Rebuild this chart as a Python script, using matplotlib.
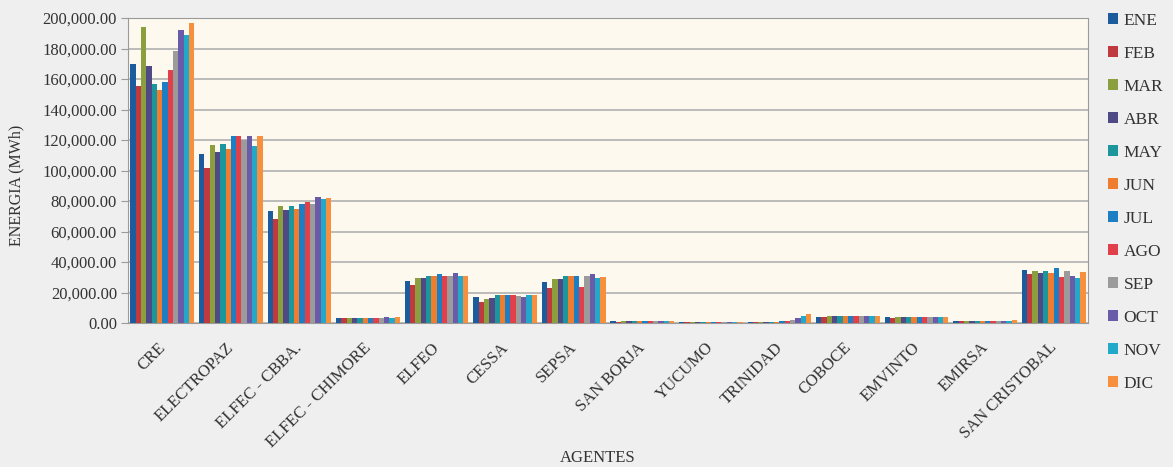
import matplotlib
matplotlib.use("Agg")
import matplotlib.pyplot as plt
import matplotlib.transforms as mtrans
import numpy as np
from matplotlib.ticker import FuncFormatter
from matplotlib.patches import Patch

agentes = ["CRE", "ELECTROPAZ", "ELFEC - CBBA.", "ELFEC - CHIMORE", "ELFEO", "CESSA",
           "SEPSA", "SAN BORJA", "YUCUMO", "TRINIDAD", "COBOCE", "EMVINTO", "EMIRSA",
           "SAN CRISTOBAL"]
meses = ["ENE", "FEB", "MAR", "ABR", "MAY", "JUN", "JUL", "AGO", "SEP", "OCT", "NOV", "DIC"]

ene = [169600, 110600, 73400, 3500, 27800, 17200, 26700, 1000, 600, 900, 4200, 3800, 1500, 34800]
feb = [155300, 101800, 68300, 3300, 24900, 13900, 22700, 900, 550, 850, 4000, 3600, 1400, 32000]
mar = [193900, 117000, 76700, 3600, 29800, 15700, 28700, 1000, 600, 900, 4300, 3800, 1500, 34400]
abr = [168700, 112400, 74000, 3500, 29800, 16300, 29000, 1000, 600, 900, 4300, 3700, 1500, 33100]
may = [156400, 117400, 76700, 3600, 30900, 18300, 30900, 1000, 600, 900, 4400, 3800, 1500, 34400]
jun = [153100, 114100, 74900, 3500, 30900, 18100, 30900, 1000, 600, 900, 4300, 3700, 1500, 32600]
jul = [158200, 122500, 78200, 3600, 32200, 18100, 30900, 1000, 600, 1000, 4400, 3900, 1600, 36100]
ago = [165900, 122300, 79300, 3600, 31100, 18300, 23400, 1000, 600, 1200, 4400, 3900, 1600, 30400]
sep = [178400, 120300, 78000, 3600, 30900, 17900, 31100, 1000, 600, 1800, 4300, 3800, 1600, 34200]
oct_ = [191900, 122500, 82600, 3700, 32600, 17200, 32400, 1100, 600, 3000, 4400, 3900, 1600, 30900]
nov = [188600, 116300, 81100, 3600, 31100, 18100, 29300, 1100, 600, 4400, 4300, 3800, 1600, 29300]
dic = [196700, 122300, 82200, 3800, 31100, 18100, 30000, 1100, 650, 5700, 4400, 3900, 1700, 33700]

series = [ene, feb, mar, abr, may, jun, jul, ago, sep, oct_, nov, dic]
colors = ["#1d5c9c", "#c0393f", "#8c9f3e", "#4f4a86", "#1b969c", "#ef7d2f",
          "#1c7fc4", "#e1404b", "#9b9b9b", "#6a5ba8", "#22a8c8", "#f6903e"]

plt.rcParams['font.family'] = ['Liberation Serif', 'DejaVu Serif']

fig = plt.figure(figsize=(11.73, 4.67), dpi=100)
fig.patch.set_facecolor("#efefef")
ax = fig.add_axes([128/1173, 1-323/467, (1088-128)/1173, (323-18)/467])
ax.set_facecolor("#fdf9ef")

x = np.arange(len(agentes))
n = len(series)
group_w = 0.93
bw = group_w / n
for i, (vals, c) in enumerate(zip(series, colors)):
    ax.bar(x - group_w/2 + bw*(i+0.5), vals, width=bw, color=c, edgecolor="none",
           label=meses[i], zorder=3)

ax.set_xlim(-0.5, len(agentes)-0.5)
ax.set_ylim(0, 200000)
ax.set_yticks(np.arange(0, 200001, 20000))
ax.yaxis.set_major_formatter(FuncFormatter(lambda v, p: f"{v:,.2f}"))
ax.grid(axis='y', color="#b0b0b0", linewidth=1.2, zorder=0)
ax.set_axisbelow(True)
for s in ax.spines.values():
    s.set_color("#9a9a9a")
ax.tick_params(axis='y', labelsize=12, colors="#333333", length=5, color="#9a9a9a", pad=3)
ax.tick_params(axis='x', length=0, labelsize=12, colors="#333333", pad=12)
ax.set_xticks(x)
ax.set_xticklabels(agentes, rotation=45, ha='right', va='top', rotation_mode='anchor')
offset = mtrans.ScaledTranslation(-5/100, 0, fig.dpi_scale_trans)
for lbl in ax.get_xticklabels():
    lbl.set_transform(lbl.get_transform() + offset)

ax.set_ylabel("ENERGIA (MWh)", fontsize=11.5, color="#333333")
ax.yaxis.set_label_coords(-(128-24)/960, 0.45)
fig.text(598/1173, 1-458/467, "AGENTES", ha='center', va='center', fontsize=12, color="#333333")

handles = [Patch(facecolor=c, edgecolor='none') for c in colors]
leg = fig.legend(handles, meses, loc='upper left', bbox_to_anchor=(1101/1173, 1-6/467),
                 frameon=False, fontsize=12.5, handlelength=0.6, handleheight=0.6,
                 handletextpad=0.3, labelspacing=0.98, borderaxespad=0)
for t in leg.get_texts():
    t.set_color("#333333")

fig.savefig("out.png", dpi=100, facecolor=fig.get_facecolor())
